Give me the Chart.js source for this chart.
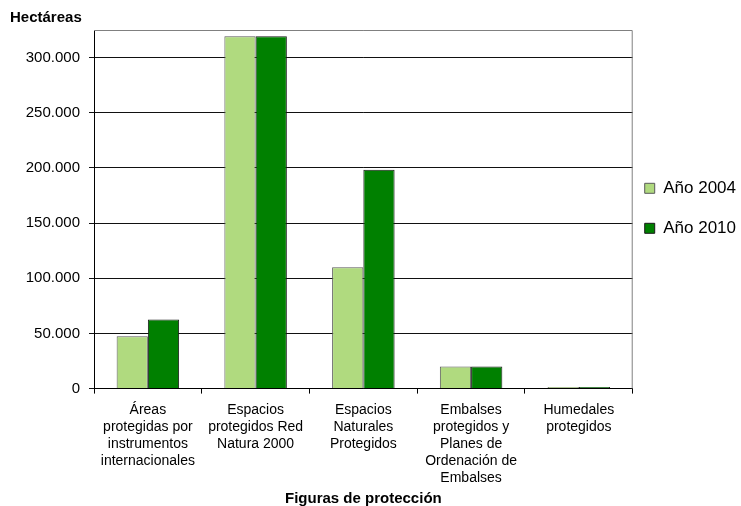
<!DOCTYPE html>
<html>
<head>
<meta charset="utf-8">
<script src="https://cdn.jsdelivr.net/npm/chart.js@4.4.0/dist/chart.umd.min.js"></script>
<style>
    html, body { margin: 0; padding: 0; background: #fff; }
    #wrap { width: 741px; height: 506px; position: relative; }
</style>
</head>
<body>
<div id="wrap"><canvas id="protChart"></canvas></div>
<script>
/*---------------------------------------------------
  Data
---------------------------------------------------*/
var categories = [
    ["Áreas", "protegidas por", "instrumentos", "internacionales"],
    ["Espacios", "protegidos Red", "Natura 2000"],
    ["Espacios", "Naturales", "Protegidos"],
    ["Embalses", "protegidos y", "Planes de", "Ordenación de", "Embalses"],
    ["Humedales", "protegidos"]
];
var seriesNames = ["Año 2004", "Año 2010"];
var values2004 = [47400, 319300, 110000, 20000, 1500];
var values2010 = [62700, 319300, 198400, 20000, 1500];
var yTicks = [0, 50000, 100000, 150000, 200000, 250000, 300000];
var yMax = 325000;

/*---------------------------------------------------
  Plot frame + legend placement
---------------------------------------------------*/
var frame = {
    id: 'frame',
    afterLayout: function (chart) {
        // legend sits close to the plot and is centred on it
        var lg = chart.legend;
        var w = lg.right - lg.left;
        lg.left = chart.chartArea.right - 11;
        lg.right = lg.left + w;
        lg.top = chart.chartArea.top - 1;
        lg.bottom = chart.chartArea.bottom - 1;
    },
    afterDraw: function (chart) {
        var a = chart.chartArea;
        var c = chart.ctx;
        c.save();
        c.strokeStyle = '#808080';
        c.lineWidth = 1;
        c.beginPath();
        c.moveTo(a.left, a.top + 0.5);
        c.lineTo(a.right - 0.5, a.top + 0.5);
        c.lineTo(a.right - 0.5, a.bottom);
        c.stroke();
        c.restore();
    }
};

Chart.defaults.font.family = "'Liberation Sans', Arial, sans-serif";
Chart.defaults.color = '#000';

var ctx = document.getElementById('protChart');
var protChart = new Chart(ctx, {
    type: 'bar',
    data: {
        labels: categories,
        datasets: [{
            label: seriesNames[0],
            data: values2004,
            backgroundColor: '#b0da7f',
            borderColor: '#5a5a5a',
            borderWidth: 1
        }, {
            label: seriesNames[1],
            data: values2010,
            backgroundColor: '#008000',
            borderColor: '#1a1a1a',
            borderWidth: 1
        }]
    },
    options: {
        responsive: true,
        maintainAspectRatio: false,
        animation: false,
        layout: {
            padding: { left: 10, right: -16, top: 0, bottom: -2 }
        },
        datasets: {
            bar: { barPercentage: 1, categoryPercentage: 0.58 }
        },
        scales: {
            x: {
                grid: {
                    offset: true,
                    drawOnChartArea: false,
                    drawTicks: true,
                    tickLength: 5,
                    color: '#000'
                },
                border: { color: '#000' },
                ticks: {
                    maxRotation: 0,
                    autoSkip: false,
                    padding: 8,
                    font: { size: 14, lineHeight: 1.22 }
                },
                title: {
                    display: true,
                    text: 'Figuras de protección',
                    font: { size: 15, weight: 'bold' },
                    padding: { top: -5, bottom: 0 }
                }
            },
            y: {
                min: 0,
                max: yMax,
                afterBuildTicks: function (axis) {
                    axis.ticks = yTicks.map(function (v) { return { value: v }; });
                },
                afterFit: function (axis) {
                    axis.width = 84;
                },
                grid: {
                    color: '#111',
                    tickLength: 5,
                    drawTicks: true
                },
                border: { color: '#000' },
                ticks: {
                    padding: 9,
                    font: { size: 15 },
                    callback: function (v) {
                        return v.toLocaleString('de-DE');
                    }
                }
            }
        },
        plugins: {
            title: {
                display: true,
                text: 'Hectáreas',
                align: 'start',
                font: { size: 15, weight: 'bold' },
                padding: { top: 9, bottom: 3 }
            },
            legend: {
                position: 'right',
                labels: {
                    boxWidth: 10,
                    boxHeight: 10,
                    padding: 23,
                    font: { size: 17 }
                }
            },
            tooltip: { enabled: false }
        }
    },
    plugins: [frame]
});
</script>
</body>
</html>
